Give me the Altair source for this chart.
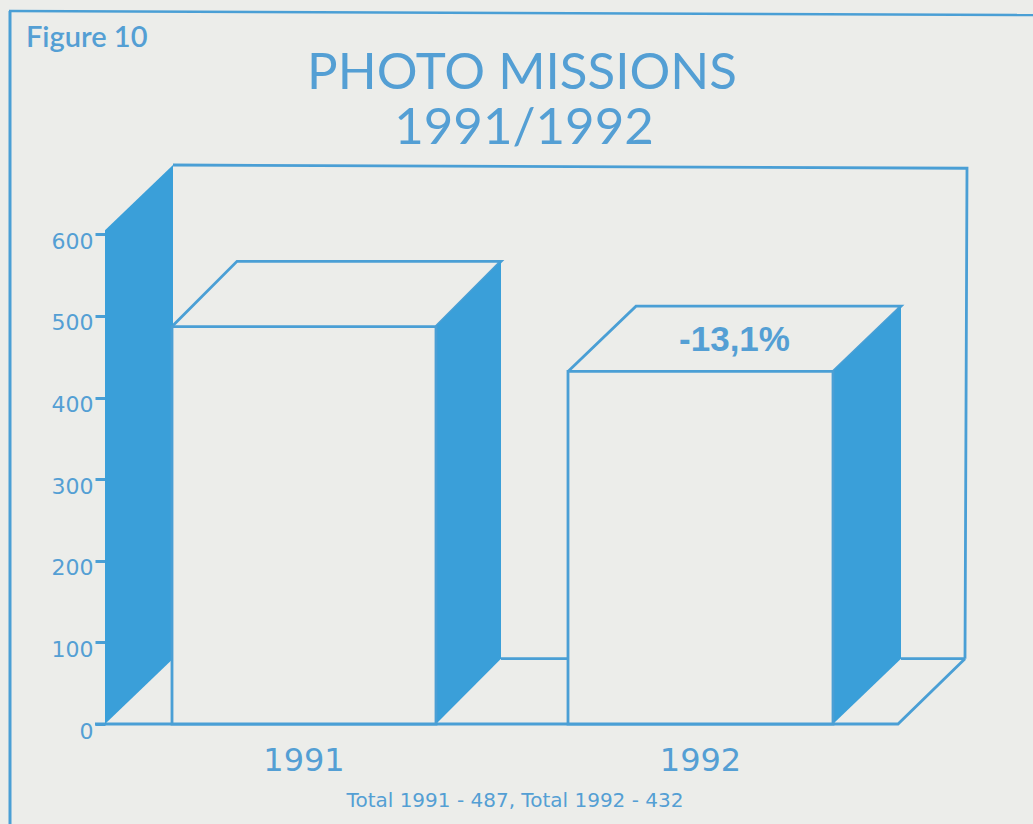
import altair as alt
import pandas as pd

# Values shown on the chart
years = ["1991", "1992"]
missions = [487, 432]
change_label = "-13,1%"
tick_values = [0, 100, 200, 300, 400, 500, 600]
title_lines = ["PHOTO MISSIONS", "1991/1992"]
figure_label = "Figure 10"
footer = "Total 1991 - 487, Total 1992 - 432"

# Box geometry on the horizontal chart scale
bar_left = [172, 568]
bar_right = [436, 833]
bar_depth = [65, 68]
depth_y = 80          # vertical depth of the oblique projection, in missions
wall_left = 105
wall_back = 173
wall_right = 965
wall_front_top = 605
wall_back_top = 685
floor_right = 898

BLUE = "#3a9fd9"
LINE = "#4a9fd5"
TEXT = "#549fd4"
PAPER = "#ecedea"

PAD_LEFT, PAD_TOP, PAD_RIGHT, PAD_BOTTOM = 105, 165, 66, 100
x_scale = alt.Scale(domain=[wall_left, wall_right + 2], range=[0, 862], nice=False, zero=False)
y_scale = alt.Scale(domain=[0, wall_back_top], range=[559, 0], nice=False, zero=False)
y_axis = alt.Axis(
    values=tick_values,
    title=None,
    grid=False,
    domain=False,
    ticks=True,
    tickColor=LINE,
    tickWidth=3,
    tickSize=10,
    labelColor=TEXT,
    labelFont="DejaVu Sans",
    labelFontSize=22,
    labelPadding=2,
    labelOffset=7,
    format="d",
)


def X(field="x"):
    return alt.X(f"{field}:Q", scale=x_scale, axis=None)


def Y(field="v"):
    return alt.Y(f"{field}:Q", scale=y_scale, axis=y_axis)


# Solid oblique faces: the left wall and the right side of each box
faces = [
    {"face": "wall", "x": wall_left, "v": 0, "v2": wall_front_top},
    {"face": "wall", "x": wall_back, "v": depth_y, "v2": wall_back_top},
]
for yr, value, right, dx in zip(years, missions, bar_right, bar_depth):
    faces.append({"face": yr, "x": right, "v": 0, "v2": value})
    faces.append({"face": yr, "x": right + dx, "v": depth_y, "v2": value + depth_y})
faces_df = pd.DataFrame(faces)

# Outline segments: back wall, floor and the tops of the boxes
segments = []


def add_segment(name, points):
    for i, (px, pv) in enumerate(points):
        segments.append({"seg": name, "i": i, "x": px, "v": pv})


add_segment("back", [(wall_back, wall_back_top), (wall_right + 2, wall_back_top - 4), (wall_right, depth_y)])
add_segment("floor", [(wall_left - 10, 0), (floor_right, 0), (wall_right, depth_y)])
add_segment("floor_back_a", [(bar_right[0] + bar_depth[0], depth_y), (bar_left[1], depth_y)])
add_segment("floor_back_b", [(bar_right[1] + bar_depth[1], depth_y), (wall_right, depth_y)])
for yr, value, left, right, dx in zip(years, missions, bar_left, bar_right, bar_depth):
    add_segment(
        "top" + yr,
        [(left, value), (left + dx, value + depth_y), (right + dx, value + depth_y), (right, value)],
    )
segments_df = pd.DataFrame(segments)

bars_df = pd.DataFrame({"year": years, "value": missions, "left": bar_left, "right": bar_right, "dx": bar_depth})
bars_df["center"] = (bars_df["left"] + bars_df["right"]) / 2
bars_df["zero"] = 0

face_layer = alt.Chart(faces_df).mark_area(color=BLUE, interpolate="linear", opacity=1).encode(
    x=X(), y=Y(), y2="v2:Q", detail="face:N"
)

line_layer = alt.Chart(segments_df).mark_line(color=LINE, strokeWidth=2.8, strokeJoin="miter").encode(
    x=X(), y=Y(), detail="seg:N", order="i:Q"
)

front_layer = alt.Chart(bars_df).mark_rect(fill=PAPER, stroke=LINE, strokeWidth=2.8).encode(
    x=X("left"), x2="right:Q", y=Y("value"), y2="zero:Q"
)

year_layer = alt.Chart(bars_df).mark_text(
    font="DejaVu Sans", fontSize=32, color=TEXT, baseline="alphabetic"
).encode(x=X("center"), y=alt.value(771 - PAD_TOP), text="year:N")

change_df = pd.DataFrame(
    {"x": [(bar_left[1] + bar_right[1]) / 2 + bar_depth[1] / 2], "v": [missions[1] + depth_y / 2], "t": [change_label]}
)
change_layer = alt.Chart(change_df).mark_text(
    font="Liberation Sans", fontSize=35, fontWeight="bold", color=TEXT, baseline="middle", dy=1
).encode(x=X(), y=Y(), text="t:N")


def label(text, px, py, **kw):
    return alt.Chart(pd.DataFrame({"t": [text]})).mark_text(color=TEXT, baseline="alphabetic", **kw).encode(
        x=alt.value(px - PAD_LEFT), y=alt.value(py - PAD_TOP), text="t:N"
    )


def edge(x1, y1, x2, y2, width):
    return alt.Chart(pd.DataFrame({"a": [0]})).mark_rule(color=LINE, strokeWidth=width).encode(
        x=alt.value(x1 - PAD_LEFT),
        x2=alt.value(x2 - PAD_LEFT),
        y=alt.value(y1 - PAD_TOP),
        y2=alt.value(y2 - PAD_TOP),
    )


chart = alt.layer(
    edge(10, 11, 10, 824, 3),
    edge(9, 11, 1033, 15, 2.5),
    line_layer,
    face_layer,
    front_layer,
    year_layer,
    change_layer,
    label(figure_label, 26, 47, font="Lato", fontSize=29, fontWeight=600, align="left"),
    label(title_lines[0], 522, 89, font="Lato", fontSize=51, align="center"),
    label(title_lines[1], 524, 144, font="Lato", fontSize=51, align="center"),
    label(footer, 515, 807, font="DejaVu Sans", fontSize=20, align="center"),
).properties(
    width=862,
    height=559,
    padding={"left": PAD_LEFT, "top": PAD_TOP, "right": PAD_RIGHT, "bottom": PAD_BOTTOM},
    autosize=alt.AutoSizeParams(type="none"),
    background=PAPER,
).configure_view(stroke=None)

chart.save("out.html", embed_options={"renderer": "svg", "actions": False})
